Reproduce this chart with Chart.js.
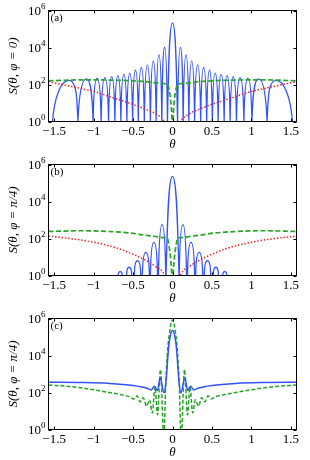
<!DOCTYPE html>
<html>
<head>
<meta charset="utf-8">
<script src="https://cdn.jsdelivr.net/npm/chart.js@4.4.0/dist/chart.umd.min.js"></script>
<style>
html, body { margin: 0; padding: 0; background: #fff; overflow: hidden; }
body { width: 310px; height: 460px; position: relative; }
canvas { position: absolute; left: 0; }
</style>
</head>
<body>
<canvas id="panelA" width="310" height="160" style="top:0px"></canvas>
<canvas id="panelB" width="310" height="160" style="top:153px"></canvas>
<canvas id="panelC" width="310" height="160" style="top:305px"></canvas>
<script>
// axis ticks
const xTickValues = [-1.5, -1, -0.5, 0, 0.5, 1, 1.5];
const xTickLabels = ['\u22121.5', '\u22121', '\u22120.5', '0', '0.5', '1', '1.5'];
const yTickValues = [1, 100, 10000, 1000000];
const yTickBase = '10';
const yTickExponents = ['0', '2', '4', '6'];

// lobes meet the 10^0 floor at their feet and carry on far below it
const floorS = 1;
const deepS = 1e-9;

// (a) phi = 0 : lobe feet (shared nulls), lobe peaks
const aBlueNulls = [-1.52, -1.198, -1.006, -0.904, -0.81, -0.73, -0.654, -0.578, -0.505, -0.433, -0.357, -0.28, -0.207, -0.135, -0.064,
  0.064, 0.135, 0.207, 0.28, 0.357, 0.433, 0.505, 0.578, 0.654, 0.73, 0.81, 0.904, 1.006, 1.198, 1.52];
const aBluePeakTheta = [-1.31, -1.09, -0.955, -0.857, -0.77, -0.692, -0.616, -0.541, -0.469, -0.395, -0.318, -0.243, -0.172, -0.1, 0,
  0.1, 0.172, 0.243, 0.318, 0.395, 0.469, 0.541, 0.616, 0.692, 0.77, 0.857, 0.955, 1.09, 1.31];
const aBluePeakS = [166, 200, 219, 234, 269, 302, 355, 417, 589, 832, 1150, 1900, 3980, 10000, 214000,
  10000, 3980, 1900, 1150, 832, 589, 417, 355, 302, 269, 234, 219, 200, 166];
const aGreenTheta = [-1.5708, -1.3, -1.0, -0.7, -0.5, -0.3, -0.15, -0.06, -0.045, -0.03, -0.018, -0.008, 0,
  0.008, 0.018, 0.03, 0.045, 0.06, 0.15, 0.3, 0.5, 0.7, 1.0, 1.3, 1.5708];
const aGreenS = [158, 174, 178, 170, 158, 138, 115, 100, 56, 25, 8, 1.6, 0.1,
  1.6, 8, 25, 56, 100, 115, 138, 158, 170, 178, 174, 158];
const aRedTheta = [-1.5708, -1.4, -1.2, -1.0, -0.75, -0.55, -0.35, -0.2, -0.1, 0, 0.1, 0.2, 0.35, 0.55, 0.75, 1.0, 1.2, 1.4, 1.5708];
const aRedS = [145, 100, 66, 42, 19, 10, 4.8, 2.4, 0.9, 0.03, 0.9, 2.4, 4.8, 10, 19, 42, 66, 100, 145];

// (b) phi = pi/4 : left foot, right foot, peak of each lobe
const bBlueLeft = [-0.688, -0.582, -0.484, -0.382, -0.28, -0.178, -0.082, 0.085, 0.19, 0.293, 0.402, 0.516, 0.637];
const bBlueRight = [-0.637, -0.516, -0.402, -0.293, -0.19, -0.085, 0.082, 0.178, 0.28, 0.382, 0.484, 0.582, 0.688];
const bBluePeakTheta = [-0.662, -0.55, -0.444, -0.338, -0.235, -0.132, 0, 0.132, 0.235, 0.338, 0.444, 0.55, 0.662];
const bBluePeakS = [1.6, 2.8, 6.3, 18, 62, 560, 229000, 560, 62, 18, 6.3, 2.8, 1.6];
const bGreenTheta = [-1.5708, -1.15, -0.77, -0.52, -0.38, -0.23, -0.12, -0.065, -0.05, -0.035, -0.022, -0.012, 0,
  0.012, 0.022, 0.035, 0.05, 0.065, 0.12, 0.23, 0.38, 0.52, 0.77, 1.15, 1.5708];
const bGreenS = [240, 263, 234, 195, 158, 132, 112, 105, 56, 22, 7, 2, 0.1,
  2, 7, 22, 56, 105, 112, 132, 158, 195, 234, 263, 240];
const bRedTheta = [-1.5708, -1.3, -1.0, -0.7, -0.5, -0.35, -0.22, -0.1, 0, 0.1, 0.22, 0.35, 0.5, 0.7, 1.0, 1.3, 1.5708];
const bRedS = [135, 100, 63, 30, 14, 7, 3.2, 1.0, 0.03, 1.0, 3.2, 7, 14, 30, 63, 100, 135];

// (c) phi = pi/4
const cBlueTheta = [-1.5708, -1.2, -0.8, -0.5, -0.33, -0.271, -0.229, -0.191, -0.157, -0.106, -0.082, -0.05, -0.026, 0,
  0.026, 0.05, 0.082, 0.106, 0.157, 0.191, 0.229, 0.271, 0.33, 0.5, 0.8, 1.2, 1.5708];
const cBlueS = [363, 347, 309, 240, 174, 138, 219, 129, 617, 95, 398, 25100, 126000, 224000,
  126000, 25100, 398, 95, 617, 129, 219, 138, 174, 240, 309, 347, 363];
const cGreenTheta = [-1.5708, -1.3, -1.0, -0.8, -0.65, -0.55, -0.49, -0.45, -0.41, -0.37, -0.33, -0.29, -0.255, -0.222, -0.19, -0.152,
  -0.11, -0.085, -0.06, -0.035, -0.015, 0, 0.015, 0.035, 0.06, 0.085, 0.11,
  0.152, 0.19, 0.222, 0.255, 0.29, 0.33, 0.37, 0.41, 0.45, 0.49, 0.55, 0.65, 0.8, 1.0, 1.3, 1.5708];
const cGreenS = [251, 209, 141, 100, 76, 60, 44.7, 66, 31, 52.5, 18.2, 40, 7.9, 204, 6.3, 1738,
  0.32, 316, 25100, 199500, 631000, 832000, 631000, 199500, 25100, 316, 0.32,
  1738, 6.3, 204, 7.9, 40, 18.2, 52.5, 31, 66, 44.7, 60, 76, 100, 141, 209, 251];

const BLUE = '#3352fb';
const GREEN = '#26a526';
const RED = '#e5262a';
const SERIF = "'Liberation Serif', 'Times New Roman', serif";

function pts(xs, ys) {
  return xs.map((x, i) => ({ x: x, y: ys[i] }));
}

// each lobe: drop below the axis, rise through its foot, over the peak, back down
function lobes(left, right, peakTheta, peakS) {
  const out = [];
  for (let i = 0; i < peakS.length; i++) {
    out.push(
      { x: left[i], y: deepS }, { x: left[i], y: floorS },
      { x: peakTheta[i], y: peakS[i] },
      { x: right[i], y: floorS }, { x: right[i], y: deepS }
    );
  }
  return out;
}

// box, inward ticks, 10^n labels and the panel tag
const frame = {
  id: 'frame',
  afterDraw(chart, args, opts) {
    const { ctx, chartArea: a, scales: { x, y } } = chart;
    ctx.save();
    ctx.strokeStyle = '#000';
    ctx.lineWidth = 1;
    ctx.strokeRect(a.left, a.top, a.right - a.left, a.bottom - a.top);
    ctx.beginPath();
    xTickValues.forEach(v => {
      const px = Math.round(x.getPixelForValue(v)) + 0.5;
      ctx.moveTo(px, a.bottom); ctx.lineTo(px, a.bottom - 3);
      ctx.moveTo(px, a.top); ctx.lineTo(px, a.top + 3);
    });
    yTickValues.forEach(v => {
      const py = Math.round(y.getPixelForValue(v)) + 0.5;
      ctx.moveTo(a.left, py); ctx.lineTo(a.left + 3, py);
      ctx.moveTo(a.right, py); ctx.lineTo(a.right - 3, py);
    });
    ctx.stroke();

    ctx.fillStyle = '#000';
    ctx.textBaseline = 'middle';
    yTickValues.forEach((v, i) => {
      const py = y.getPixelForValue(v);
      ctx.font = '9px ' + SERIF;
      const ew = ctx.measureText(yTickExponents[i]).width;
      ctx.textAlign = 'left';
      ctx.fillText(yTickExponents[i], a.left - 3 - ew, py - 4);
      ctx.font = '13px ' + SERIF;
      ctx.textAlign = 'right';
      ctx.fillText(yTickBase, a.left - 3 - ew, py + 1.5);
    });

    ctx.font = '11px ' + SERIF;
    ctx.textAlign = 'left';
    ctx.textBaseline = 'top';
    ctx.fillText(opts.tag, a.left + 2, a.top + 2);
    ctx.restore();
  }
};

function panelChart(id, datasets, yTitle, tag, padTop, padBottom) {
  return new Chart(document.getElementById(id), {
    type: 'line',
    data: { datasets: datasets },
    options: {
      responsive: false,
      animation: false,
      layout: { padding: { left: 0, right: 13.5, top: padTop, bottom: padBottom } },
      elements: { point: { radius: 0 }, line: { capBezierPoints: false } },
      plugins: {
        legend: { display: false },
        tooltip: { enabled: false },
        frame: { tag: tag }
      },
      scales: {
        x: {
          type: 'linear',
          min: -Math.PI / 2,
          max: Math.PI / 2,
          grid: { display: false, drawTicks: false },
          border: { display: false },
          afterBuildTicks: s => { s.ticks = xTickValues.map(v => ({ value: v })); },
          afterFit: s => { s.height = 31; },
          ticks: {
            padding: 2, autoSkip: false, maxRotation: 0, color: '#000',
            font: { family: SERIF, size: 13 },
            callback: v => xTickLabels[xTickValues.indexOf(v)]
          },
          title: {
            display: true, text: '\u03b8', color: '#000',
            font: { family: SERIF, size: 13, style: 'italic' },
            padding: { top: 0, bottom: 0 }
          }
        },
        y: {
          type: 'logarithmic',
          min: 1,
          max: 1000000,
          grid: { display: false, drawTicks: false },
          border: { display: false },
          afterBuildTicks: s => { s.ticks = yTickValues.map(v => ({ value: v })); },
          afterFit: s => { s.width = 48.5; },
          ticks: { display: false },
          title: {
            display: true, text: yTitle, color: '#000',
            font: { family: SERIF, size: 13, style: 'italic' },
            padding: { top: 6, bottom: 0 }
          }
        }
      }
    },
    plugins: [frame]
  });
}

const red = (data) => ({ data: data, borderColor: RED, borderWidth: 1.5, borderDash: [1.5, 1.8], cubicInterpolationMode: 'monotone', clip: 0 });
const green = (data) => ({ data: data, borderColor: GREEN, borderWidth: 1.7, borderDash: [5, 2.5], cubicInterpolationMode: 'monotone', clip: 0 });
const blueLobes = (data) => ({ data: data, borderColor: BLUE, borderWidth: 1.3, tension: 0.6, clip: 0 });

panelChart('panelA', [
  red(pts(aRedTheta, aRedS)),
  green(pts(aGreenTheta, aGreenS)),
  blueLobes(lobes(aBlueNulls.slice(0, -1), aBlueNulls.slice(1), aBluePeakTheta, aBluePeakS))
], 'S(\u03b8, \u03c6 = 0)', '(a)', 10.5, 7.5);

panelChart('panelB', [
  red(pts(bRedTheta, bRedS)),
  green(pts(bGreenTheta, bGreenS)),
  blueLobes(lobes(bBlueLeft, bBlueRight, bBluePeakTheta, bBluePeakS))
], 'S(\u03b8, \u03c6 = \u03c0/4)', '(b)', 11.5, 6.5);

panelChart('panelC', [
  { data: pts(cBlueTheta, cBlueS), borderColor: BLUE, borderWidth: 1.5, cubicInterpolationMode: 'monotone', clip: 0 },
  { data: pts(cGreenTheta, cGreenS), borderColor: GREEN, borderWidth: 1.5, borderDash: [4, 2], cubicInterpolationMode: 'monotone', clip: 0 }
], 'S(\u03b8, \u03c6 = \u03c0/4)', '(c)', 13.5, 4.5);
</script>
</body>
</html>
